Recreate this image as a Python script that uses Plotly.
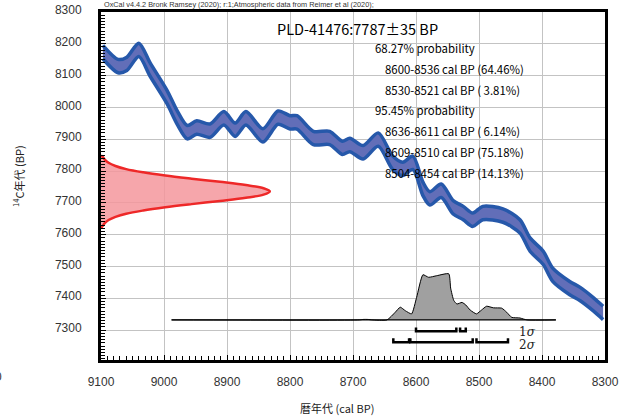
import plotly.graph_objects as go

# ---------------- data ----------------
# calibration curve (cal BP, 14C BP centre)
cal_bp = [9097, 9073, 9059, 9040, 9022, 8995, 8979, 8963, 8948, 8927, 8905, 8887,
          8870, 8843, 8819, 8800, 8789, 8763, 8737, 8717, 8705, 8684, 8660, 8637,
          8621, 8605, 8589, 8578, 8560, 8541, 8525, 8510, 8494, 8462, 8435, 8419,
          8398, 8383, 8356, 8340, 8319, 8303]
c14_mid = [8174, 8130, 8137, 8181, 8119, 8032, 7968, 7922, 7937, 7927, 7966, 7930,
           7966, 7912, 7968, 7953, 7953, 7904, 7904, 7873, 7882, 7859, 7899, 7826,
           7807, 7826, 7744, 7714, 7738, 7686, 7668, 7647, 7668, 7660, 7626, 7569,
           7527, 7474, 7432, 7414, 7382, 7354]
c14_halfwidth = 21

# measured 14C date distribution (14C BP, width in years from the axis)
meas_c14 = [7849, 7846, 7836, 7826, 7816, 7806, 7796, 7786, 7776, 7766, 7756, 7746,
            7736, 7726, 7716, 7706, 7696, 7686, 7676, 7666, 7656, 7646, 7636, 7626, 7622]
meas_width = [0, 2, 6, 12, 23, 40, 67, 102, 144, 189, 230, 258,
              268, 258, 230, 189, 144, 102, 67, 40, 23, 12, 6, 2, 0]

# calibrated probability (cal BP, height above baseline in 14C units)
prob_cal = [8988, 8690, 8684, 8676, 8670, 8646, 8633, 8625, 8617, 8607, 8599, 8589,
            8580, 8567, 8548, 8545, 8540, 8535, 8527, 8521, 8514, 8504, 8496, 8488,
            8477, 8464, 8456, 8448, 8435, 8424, 8378]
prob_h = [0, 0, 1.5, 1.5, 0, 0, 24, 40, 29, 19, 71, 142,
          134, 139, 145, 100, 61, 50, 55, 47, 31, 19, 31, 43,
          38, 37, 24, 8, 6, 0, 0]
prob_base = 7332

sigma1 = [(8600, 8536), (8530, 8521)]
sigma2 = [(8636, 8611), (8609, 8510), (8504, 8454)]

x_ticks = [9100, 9000, 8900, 8800, 8700, 8600, 8500, 8400, 8300]
y_ticks = [7300, 7400, 7500, 7600, 7700, 7800, 7900, 8000, 8100, 8200, 8300]

title_text = "PLD-41476:7787±35 BP"
header_text = "OxCal v4.4.2 Bronk Ramsey (2020); r:1;Atmospheric data from Reimer et al (2020);"
result_lines = ["68.27% probability",
                "8600-8536 cal BP (64.46%)",
                "8530-8521 cal BP ( 3.81%)",
                "95.45% probability",
                "8636-8611 cal BP ( 6.14%)",
                "8609-8510 cal BP (75.18%)",
                "8504-8454 cal BP (14.13%)"]

# ---------------- layout constants ----------------
W, H = 623, 420
L, R, T, B = 101, 18, 12, 60
X0, X1 = 9100, 8300
Y0, Y1 = 7206, 8300
FONT = "Liberation Sans, Noto Sans CJK JP, sans-serif"
JFONT = "Noto Sans CJK JP, Liberation Sans, sans-serif"


def px(xp):
    return (xp - L) / (W - L - R)


def py(yp):
    return 1 - (yp - T) / (H - T - B)


fig = go.Figure()

# calibration band
upper = [m + c14_halfwidth for m in c14_mid]
lower = [m - c14_halfwidth for m in c14_mid]
edge = "rgb(38,88,170)"
fig.add_trace(go.Scatter(x=cal_bp, y=upper, mode="lines",
                         line=dict(color=edge, width=3.5, shape="spline", smoothing=0.8),
                         hoverinfo="skip", showlegend=False))
fig.add_trace(go.Scatter(x=cal_bp, y=lower, mode="lines", fill="tonexty",
                         fillcolor="rgb(98,110,184)",
                         line=dict(color=edge, width=3.5, shape="spline", smoothing=0.8),
                         hoverinfo="skip", showlegend=False))

# measured 14C distribution (red)
rx = [X0 - w for w in meas_width]
fig.add_trace(go.Scatter(x=rx + [X0, X0], y=meas_c14 + [meas_c14[-1], meas_c14[0]],
                         mode="lines", fill="toself", fillcolor="rgba(244,150,156,0.85)",
                         line=dict(color="rgba(0,0,0,0)", width=0),
                         hoverinfo="skip", showlegend=False))
fig.add_trace(go.Scatter(x=rx, y=meas_c14, mode="lines",
                         line=dict(color="rgb(238,40,40)", width=2.5, shape="spline"),
                         hoverinfo="skip", showlegend=False))

# calibrated probability (gray)
gy = [prob_base + h for h in prob_h]
fig.add_trace(go.Scatter(x=prob_cal, y=gy, mode="lines", fill="toself",
                         fillcolor="rgb(160,160,160)",
                         line=dict(color="black", width=1, shape="spline", smoothing=0.5),
                         hoverinfo="skip", showlegend=False))
fig.add_trace(go.Scatter(x=[prob_cal[0], prob_cal[-1]], y=[prob_base, prob_base], mode="lines",
                         line=dict(color="black", width=1.3),
                         hoverinfo="skip", showlegend=False))

# sigma brackets
def bracket(ranges, ybase, tick):
    xs, ys = [], []
    for a, b in ranges:
        xs += [a, a, b, b, None]
        ys += [ybase + tick, ybase, ybase, ybase + tick, None]
    return xs, ys


for rng, yb, lab, ly in [(sigma1, 7296, "1", 7295), (sigma2, 7262, "2", 7254)]:
    bx, by = bracket(rng, yb, 12)
    fig.add_trace(go.Scatter(x=bx, y=by, mode="lines",
                             line=dict(color="black", width=2.5),
                             hoverinfo="skip", showlegend=False))
    fig.add_annotation(x=8440, y=ly, xref="x", yref="y", xanchor="left", yanchor="middle",
                       text=lab + "<i>σ</i>", showarrow=False,
                       font=dict(family="DejaVu Serif, serif", size=12, color="#222"))

# text annotations
fig.add_annotation(x=px(102), y=py(5), xref="paper", yref="paper", xanchor="left", yanchor="middle",
                   text=header_text, showarrow=False,
                   font=dict(family=FONT, size=7.3, color="#333"))
fig.add_annotation(x=px(275), y=py(29), xref="paper", yref="paper", xanchor="left", yanchor="middle",
                   text=title_text, showarrow=False,
                   font=dict(family=JFONT, size=14.5, color="black"))
line_y = [48, 69, 90, 110, 131, 152, 173]
for txt, yy in zip(result_lines, line_y):
    x_left = 373 if "probability" in txt else 383
    fig.add_annotation(x=px(x_left), y=py(yy), xref="paper", yref="paper",
                       xanchor="left", yanchor="middle", text=txt, showarrow=False,
                       font=dict(family=JFONT, size=11.4, color="black"))

# axis titles
fig.add_annotation(x=px(18), y=py(176), xref="paper", yref="paper", textangle=-90,
                   xanchor="center", yanchor="middle",
                   text="<sup>14</sup>C年代 (BP)", showarrow=False,
                   font=dict(family=JFONT, size=11, color="#222"))
fig.add_annotation(x=px(337), y=py(408), xref="paper", yref="paper",
                   xanchor="center", yanchor="middle",
                   text="暦年代 (cal BP)", showarrow=False,
                   font=dict(family=JFONT, size=11, color="#222"))
fig.add_annotation(x=px(-2), y=py(377), xref="paper", yref="paper",
                   xanchor="center", yanchor="middle",
                   text="0", showarrow=False,
                   font=dict(family=FONT, size=12, color="#333"))

fig.update_xaxes(range=[X0, X1], tickvals=x_ticks, ticktext=[str(v) for v in x_ticks],
                 showgrid=True, gridcolor="rgb(195,195,195)", gridwidth=1,
                 showline=True, linecolor="black", linewidth=3, mirror=True,
                 ticks="inside", ticklen=5, tickcolor="black", tickwidth=1,
                 minor=dict(dtick=10, tick0=8300, ticks="inside", ticklen=4, tickcolor="black",
                            showgrid=False),
                 zeroline=False, ticklabelstandoff=9, automargin=False,
                 tickfont=dict(family=FONT, size=12, color="#333"))
fig.update_yaxes(range=[Y0, Y1], tickvals=y_ticks, ticktext=[str(v) for v in y_ticks],
                 showgrid=True, gridcolor="rgb(195,195,195)", gridwidth=1,
                 showline=True, linecolor="black", linewidth=3, mirror=True,
                 ticks="inside", ticklen=5, tickcolor="black", tickwidth=1,
                 minor=dict(dtick=10, tick0=7200, ticks="inside", ticklen=4, tickcolor="black",
                            showgrid=False),
                 zeroline=False, ticklabelstandoff=14, ticklabelshift=-2, automargin=False,
                 tickfont=dict(family=FONT, size=12, color="#333"))

fig.update_layout(width=W, height=H, margin=dict(l=L, r=R, t=T, b=B, pad=0, autoexpand=False),
                  plot_bgcolor="white", paper_bgcolor="white", showlegend=False)

post = ("document.documentElement.style.margin='0';"
        "document.documentElement.style.overflow='hidden';"
        "document.body.style.margin='0';"
        "document.body.style.padding='0';"
        "document.body.style.overflow='hidden';"
        "var d=document.getElementById('{plot_id}');"
        "d.style.position='fixed';d.style.left='0px';d.style.top='0px';")

fig.write_html("out.html", config={"displayModeBar": False}, post_script=post)
